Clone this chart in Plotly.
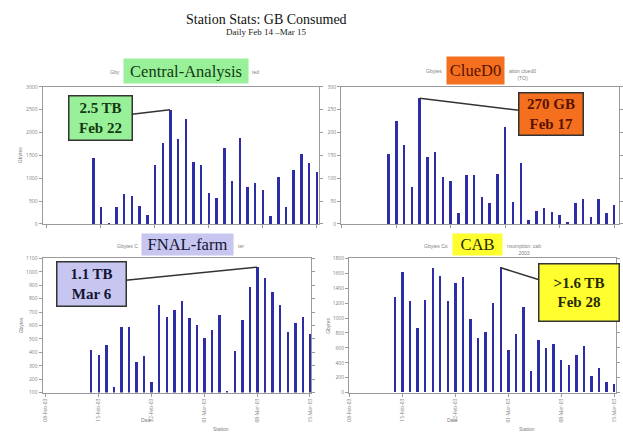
import plotly.graph_objects as go
import pandas as pd
import numpy as np

# ---------------- data ----------------
dates = pd.date_range('2003-02-14', periods=30, freq='D')

central_analysis = [1450, 375, 30, 375, 650, 625, 400, 200, 1290, 1780,
                    2500, 1870, 2300, 1360, 1300, 680, 575, 1670, 950, 1880,
                    805, 905, 750, 170, 1040, 375, 1180, 1525, 1345, 1130]
clued0 = [154, 226, 173, 82, 275, 146, 157, 104, 94, 24,
          107, 107, 59, 46, 110, 212, 49, 134, 10, 28,
          36, 26, 19, 5, 46, 55, 16, 56, 24, 42]
fnal_farm = [412, 375, 449, 142, 584, 586, 326, 368, 179, 746,
             663, 714, 776, 653, 599, 505, 562, 672, 105, 407,
             640, 886, 1035, 953, 849, 746, 547, 616, 658, 530]
cab = [1274, 1615, 1226, 863, 1235, 1670, 1558, 1226, 1460, 1544,
       987, 730, 805, 1190, 1675, 562, 774, 1137, 288, 704,
       588, 650, 429, 363, 504, 615, 217, 319, 142, 111]

stations = ["Central-Analysis", "ClueD0", "FNAL-farm", "CAB"]
callouts = ["2.5 TB<br>Feb 22", "270 GB<br>Feb 17", "1.1 TB<br>Mar 6", "&gt;1.6 TB<br>Feb 28"]
# fragments of the small chart subtitles that peek out beside the label boxes
sub_left = ["Gby", "Gbytes", "Gbytes C", "Gbytes Co"]
sub_right = ["ted", "ation clued0<br>(TO)", "ter", "nsumption: cab<br>2003"]
y_ranges = [[0, 3000], [0, 300], [100, 1100], [0, 1800]]
y_dticks = [500, 50, 100, 200]

# ---------------- styling ----------------
W, H = 623, 438
def px(x): return x / W
def py(y): return 1 - y / H

BAR = "#2d2da6"
AX = "#9a9a9a"
SMALL = dict(size=5, color="#808080", family="Arial")
SERIF = "Liberation Serif, Times New Roman, serif"
label_bg = ["#98f098", "#f4701e", "#c6c6f0", "#ffff30"]
label_fg = ["#123a12", "#5a1200", "#141432", "#2a2a00"]

# plot areas in pixels: (left, right, top, bottom)
areas = [(40, 320, 85, 224), (342, 623, 85, 224), (40, 312, 259, 395), (350, 620, 259, 395)]
# x ranges in days relative to first date
xr_days = [(-6.55, 29.4), (-6.1, 29.6), (-6.37, 29.2), (-6.08, 29.25)]
series = [central_analysis, clued0, fnal_farm, cab]

# label boxes (center px, width, height)
label_boxes = [((185, 68.5), 124, 24), ((478, 68), 57, 27), ((187, 245), 91, 21), ((480, 245), 49, 21)]
callout_boxes = [((99, 116.5), 62, 43), ((553, 112.5), 63, 41), ((91, 284.5), 68, 43), ((582, 293), 79, 56)]

def note(x, y, text, font, xa="center", ya="middle", **kw):
    return dict(xref="paper", yref="paper", x=px(x), y=py(y), text=text, showarrow=False,
                xanchor=xa, yanchor=ya, font=font, **kw)

fig = go.Figure()
annotations = []
t0 = dates[0]
for i, vals in enumerate(series):
    n = "" if i == 0 else str(i + 1)
    fig.add_trace(go.Bar(x=dates, y=vals, width=0.32 * 86400000, marker_color=BAR,
                         marker_line_width=0, xaxis="x" + n, yaxis="y" + n, showlegend=False))
    l, r, t, b = areas[i]
    lo = (t0 + pd.Timedelta(days=xr_days[i][0])).strftime("%Y-%m-%d %H:%M:%S")
    hi = (t0 + pd.Timedelta(days=xr_days[i][1])).strftime("%Y-%m-%d %H:%M:%S")
    bottom = i >= 2
    fig.update_layout(**{
        "xaxis" + n: dict(domain=[px(l), px(r)], anchor="y" + n, range=[lo, hi], type="date",
                          showline=True, linecolor=AX, linewidth=1, mirror=True,
                          ticks="outside", ticklen=3, tickcolor=AX,
                          dtick=7 * 86400000, tick0="2003-02-08",
                          tickformat="%d-%b-%y", tickangle=-90,
                          showticklabels=bottom, tickfont=dict(size=5, color="#808080"),
                          showgrid=False, zeroline=False),
        "yaxis" + n: dict(domain=[py(b), py(t)], anchor="x" + n, range=y_ranges[i],
                          dtick=y_dticks[i], showline=True, linecolor=AX, linewidth=1,
                          mirror="ticks", ticks="outside", ticklen=3, tickcolor=AX,
                          tickfont=dict(size=5, color="#808080"),
                          showgrid=False, zeroline=False),
    })
    (cx, cy), bw, bh = label_boxes[i]
    # subtitle fragments either side of the label box
    annotations.append(note(cx - bw / 2 - 3, cy - 4, sub_left[i], SMALL, xa="right", ya="top"))
    annotations.append(note(cx + bw / 2 + 3, cy - 4, sub_right[i], SMALL, xa="left", ya="top"))
    # y axis title
    if i != 1:
        annotations.append(note(l - 22, (t + b) / 2, "Gbytes", SMALL, textangle=-90))
    if bottom:
        annotations.append(note(l + 105, 423, "Date", SMALL))
        annotations.append(note(l + 180, 432, "Station", SMALL))
    # station label
    annotations.append(note(cx, cy, stations[i], dict(size=16.5, color=label_fg[i], family=SERIF),
                            width=bw, height=bh, bgcolor=label_bg[i], borderpad=0))

# callouts pointing to peaks
for i, vals in enumerate(series):
    n = "" if i == 0 else str(i + 1)
    k = int(np.argmax(vals))
    l, r, t, b = areas[i]
    x0d, x1d = xr_days[i]
    xpix = l + (k - x0d) / (x1d - x0d) * (r - l)
    y0, y1 = y_ranges[i]
    ypix = b - (vals[k] - y0) / (y1 - y0) * (b - t)
    (cx, cy), bw, bh = callout_boxes[i]
    annotations.append(dict(x=dates[k], y=vals[k], xref="x" + n, yref="y" + n,
                            ax=cx - xpix, ay=cy - ypix, showarrow=True, arrowhead=0,
                            arrowwidth=1.5, arrowcolor="#333333", standoff=0,
                            text="<b>" + callouts[i] + "</b>", width=bw, height=bh,
                            bgcolor=label_bg[i], bordercolor="#333333", borderwidth=1.5,
                            borderpad=0, font=dict(size=15, color=label_fg[i], family=SERIF)))

annotations.append(note(266, 17, "Station Stats: GB Consumed", dict(size=14, color="#111111", family=SERIF)))
annotations.append(note(266, 29.5, "Daily Feb 14 \u2013Mar 15", dict(size=9, color="#222222", family=SERIF)))

fig.update_layout(width=W, height=H, margin=dict(l=0, r=0, t=0, b=0),
                  paper_bgcolor="white", plot_bgcolor="white", bargap=0,
                  annotations=annotations)

fig.write_html("out.html", config={"displayModeBar": False},
               post_script="document.body.style.margin='0';document.body.style.overflow='hidden';")
